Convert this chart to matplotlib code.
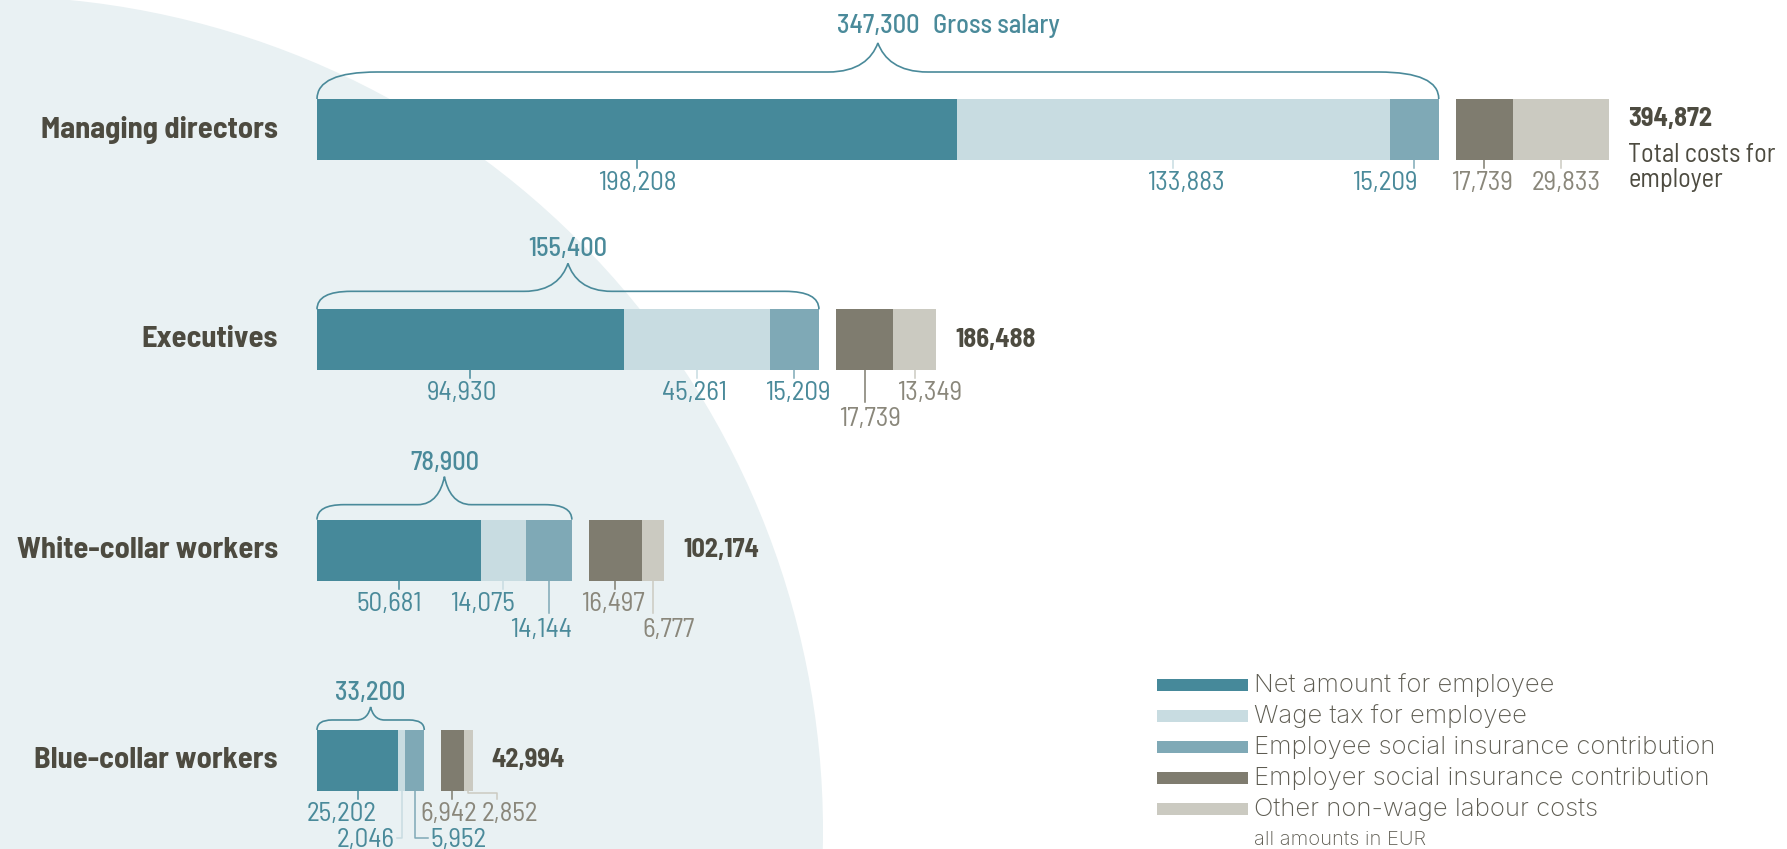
import numpy as np
import matplotlib.pyplot as plt
from matplotlib.patches import Ellipse, Rectangle, PathPatch
from matplotlib.path import Path

# --- data (EUR per year) ---
groups = ['Managing directors', 'Executives', 'White-collar workers', 'Blue-collar workers']
net = [198208, 94930, 50681, 25202]
wage_tax = [133883, 45261, 14075, 2046]
employee_si = [15209, 15209, 14144, 5952]
employer_si = [17739, 17739, 16497, 6942]
other_costs = [29833, 13349, 6777, 2852]
gross = [347300, 155400, 78900, 33200]
totals = [394872, 186488, 102174, 42994]

legend_labels = ['Net amount for employee', 'Wage tax for employee',
                 'Employee social insurance contribution',
                 'Employer social insurance contribution',
                 'Other non-wage labour costs']

# --- styling ---
COLORS = ['#46899a', '#c8dce1', '#7fa9b6', '#7f7c6f', '#cbcac1']
TEAL = '#4a8a9a'
GRAY = '#8a877b'
DARK = '#4d4b40'
BG = '#e9f1f3'
NARROW = ['Barlow Semi Condensed', 'DejaVu Sans']
REGULAR = ['Inter', 'Liberation Sans', 'DejaVu Sans']

W, H = 1787, 849
X0, PPX = 317, 0.00323      # x pixel of 0 EUR, pixels per EUR
Y0, PPY = 129.5, 210.33     # y pixel of first row, pixels per row
BAR_H = 61 / PPY
GAP = 17 / PPX


def dx(p):
    return p / PPX


def dy(p):
    return p / PPY


fig = plt.figure(figsize=(W / 100, H / 100), dpi=100)
ax = fig.add_axes([0, 0, 1, 1])
ax.set_xlim(-X0 / PPX, (W - X0) / PPX)
ax.set_ylim((H - Y0) / PPY, -Y0 / PPY)
ax.axis('off')

# background disc
ax.add_patch(Ellipse((dx(-12 - X0), dy(831 - Y0)), dx(2 * 835), dy(2 * 835),
                     color=BG, zorder=0, lw=0))

y = np.arange(len(groups))
series = [net, wage_tax, employee_si, employer_si, other_costs]
lefts = []
left = np.zeros(len(groups))
for k, vals in enumerate(series):
    if k == 3:
        left = np.array(gross, dtype=float) + GAP
    vals = np.array(vals, dtype=float)
    ax.barh(y, vals, left=left, height=BAR_H, color=COLORS[k], lw=0, zorder=2)
    lefts.append(left.copy())
    left = left + vals

# label layout per row/segment: (level, label x offset px, connector style)
LABEL_LAYOUT = [
    [(0, 0, 'tick'), (0, 12, 'tick'), (0, -29, 'tick'), (0, -2, 'tick'), (0, 5, 'tick')],
    [(0, -8, 'tick'), (0, -2, 'tick'), (0, 3, 'tick'), (1, 5, 'tick'), (0, 15, 'tick')],
    [(0, -10, 'tick'), (0, -21, 'tick'), (1, -8, 'tick'), (0, -3, 'tick'), (1, 15, 'tick')],
    [(0, -16, 'tick'), (1, -7, 'elbow_l'), (1, 16, 'elbow_r'), (0, -4, 'tick'), (0, 42, 'step')],
]

for i in range(len(groups)):
    bottom = i + BAR_H / 2
    for k, vals in enumerate(series):
        level, off, style = LABEL_LAYOUT[i][k]
        cx = lefts[k][i] + vals[i] / 2
        tc = TEAL if k < 3 else GRAY
        lc = COLORS[k]
        base = bottom + dy(30 if level == 0 else 56)
        txt = f'{vals[i]:,}'
        ha = 'center'
        tx = cx + dx(off)
        if style == 'tick':
            ax.plot([cx, cx], [bottom, bottom + dy(8 if level == 0 else 32)],
                    color=lc, lw=1.1, zorder=1)
        elif style == 'elbow_l':
            ym = bottom + dy(47)
            ax.plot([cx, cx, cx - dx(5)], [bottom, ym, ym], color=lc, lw=1.1, zorder=1)
            ha = 'right'
        elif style == 'elbow_r':
            ym = bottom + dy(47)
            ax.plot([cx, cx, cx + dx(13)], [bottom, ym, ym], color=lc, lw=1.1, zorder=1)
            ha = 'left'
        elif style == 'step':
            xs = tx - dx(13)
            ax.plot([cx, cx, xs, xs], [bottom, bottom + dy(2), bottom + dy(2), bottom + dy(8)],
                    color=lc, lw=1.1, zorder=1)
        ax.text(tx, base, txt, ha=ha, va='baseline', fontsize=19.5, color=tc, family=NARROW)

    # row label and total
    ax.text(dx(-39), i, groups[i], ha='right', va='center', fontsize=22,
            fontweight='bold', color=DARK, family=NARROW)
    tx = totals[i] + GAP + dx(19)
    if i == 0:
        ax.text(tx, i - dy(11), f'{totals[i]:,}', ha='left', va='center', fontsize=19,
                fontweight='bold', color=DARK, family=NARROW)
        ax.text(tx, i + dy(25), 'Total costs for', ha='left', va='center', fontsize=19,
                color=DARK, family=NARROW)
        ax.text(tx, i + dy(50), 'employer', ha='left', va='center', fontsize=19,
                color=DARK, family=NARROW)
    else:
        ax.text(tx, i, f'{totals[i]:,}', ha='left', va='center', fontsize=19,
                fontweight='bold', color=DARK, family=NARROW)

# gross salary braces: rise, peak height, corner width, peak half-width, label gap (px)
BRACE = [(27, 29, 60, 50, 10), (18, 28, 34, 44, 7), (15, 28, 27, 27, 7), (10, 13, 15, 14, 7)]
for i in range(len(groups)):
    rise, peak, rad, hw, lg = BRACE[i]
    x0, x1 = 0, gross[i]
    xc = (x0 + x1) / 2
    ytop = i - BAR_H / 2
    yh = ytop - dy(rise)
    yp = yh - dy(peak)
    r, w = dx(rad), dx(hw)
    verts = [(x0, ytop), (x0, yh), (x0 + r, yh), (xc - w, yh),
             (xc - 0.4 * w, yh), (xc - 0.12 * w, yh - 0.45 * dy(peak)), (xc, yp),
             (xc + 0.12 * w, yh - 0.45 * dy(peak)), (xc + 0.4 * w, yh), (xc + w, yh),
             (x1 - r, yh), (x1, yh), (x1, ytop)]
    codes = [Path.MOVETO, Path.CURVE3, Path.CURVE3, Path.LINETO,
             Path.CURVE4, Path.CURVE4, Path.CURVE4,
             Path.CURVE4, Path.CURVE4, Path.CURVE4,
             Path.LINETO, Path.CURVE3, Path.CURVE3]
    ax.add_patch(PathPatch(Path(verts, codes), fill=False, ec=TEAL, lw=1.2, zorder=3))
    ax.text(xc, yp - dy(lg), f'{gross[i]:,}', ha='center', va='baseline', fontsize=19,
            color=TEAL, family=NARROW, fontweight='medium')
    if i == 0:
        ax.text(xc + dx(55), yp - dy(lg), 'Gross salary', ha='left', va='baseline',
                fontsize=19, color=TEAL, family=NARROW, fontweight='medium')

# legend
for k, lab in enumerate(legend_labels):
    yc = 685 + 31 * k
    fig.add_artist(Rectangle((1157 / W, 1 - (yc + 6) / H), 91 / W, 12 / H,
                             transform=fig.transFigure, color=COLORS[k], lw=0))
    fig.text(1254 / W, 1 - (yc + 7) / H, lab, ha='left', va='baseline', fontsize=18.5,
             color='#5e5c52', family=REGULAR, fontweight='light')
fig.text(1254 / W, 1 - 845 / H, 'all amounts in EUR', ha='left', va='baseline',
         fontsize=14.5, color='#5e5c52', family=REGULAR, fontweight='light')

fig.savefig('out.png', dpi=100)
